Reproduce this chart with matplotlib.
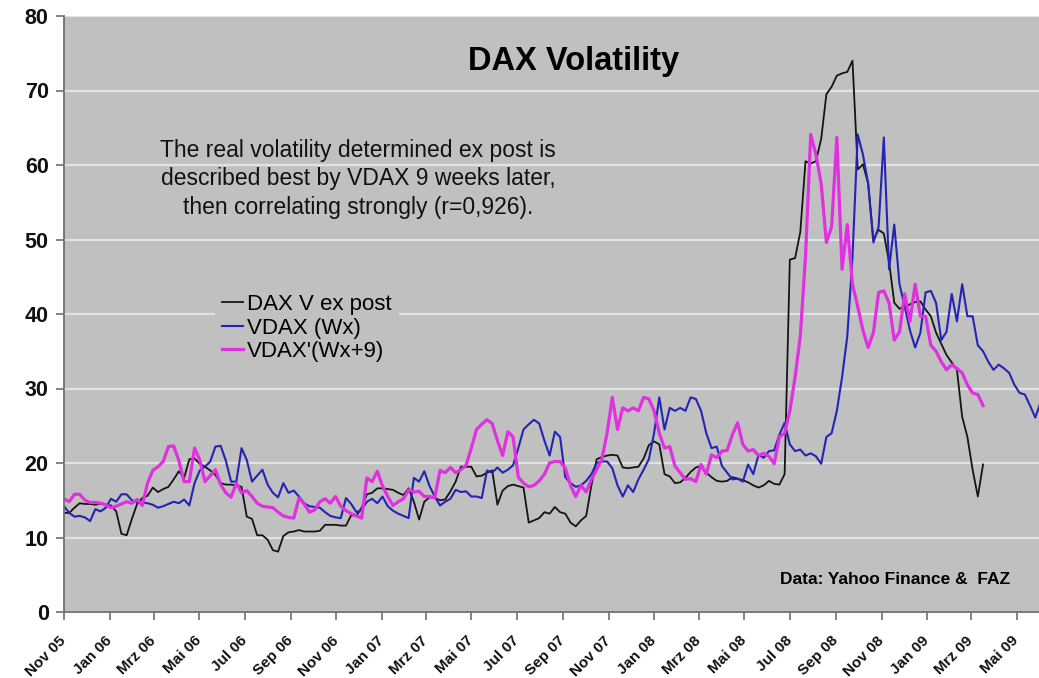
import matplotlib.pyplot as plt
import matplotlib.transforms as mtransforms
import numpy as np
import pandas as pd

plt.rcParams['font.family'] = ['Liberation Sans', 'DejaVu Sans']

# weekly values, first week = Nov 2005
dax_ex_post = [
    13.3, 13.3, 14.0, 14.6, 14.5, 14.5, 14.4, 14.5, 14.4, 14.3,
    13.5, 10.5, 10.3, 12.5, 14.5, 15.3, 15.6, 16.7, 16.1, 16.5,
    16.8, 17.8, 18.9, 18.0, 20.5, 20.6, 19.9, 19.5, 19.0, 18.4,
    17.3, 17.1, 17.1, 17.0, 16.8, 12.8, 12.5, 10.3, 10.3, 9.7,
    8.3, 8.1, 10.2, 10.7, 10.8, 11.0, 10.8, 10.8, 10.8, 10.9,
    11.7, 11.7, 11.7, 11.6, 11.6, 13.0, 12.9, 14.0, 15.8, 16.0,
    16.6, 16.6, 16.5, 16.4, 16.0, 15.7, 16.6, 14.8, 12.4, 14.8,
    15.4, 15.3, 15.0, 15.1, 16.2, 17.5, 19.5, 19.5, 19.5, 18.2,
    18.3, 18.7, 19.0, 14.4, 16.3, 16.9, 17.1, 16.9, 16.7, 12.0,
    12.3, 12.6, 13.4, 13.2, 14.1, 13.4, 13.2, 12.0, 11.5, 12.3,
    12.9, 17.0, 20.5, 20.8, 21.0, 21.1, 21.0, 19.4, 19.3, 19.4,
    19.5, 20.6, 22.4, 22.9, 22.5, 18.5, 18.2, 17.3, 17.4, 18.0,
    18.8, 19.4, 19.6, 18.7, 18.1, 17.6, 17.5, 17.6, 18.1, 17.9,
    17.7, 17.4, 17.0, 16.7, 17.0, 17.6, 17.2, 17.1, 18.5, 47.3,
    47.5, 51.0, 60.5, 60.2, 60.5, 63.5, 69.5, 70.5, 72.0, 72.3,
    72.5, 74.0, 59.4, 60.1, 57.5, 50.0, 51.3, 50.8, 47.0, 41.5,
    40.7, 41.0, 41.3, 41.6, 41.7, 40.6, 39.7, 37.5, 36.0, 34.5,
    33.5, 32.5, 26.2, 23.5, 19.1, 15.5, 19.8,
]

vdax = [
    14.2, 13.3, 12.8, 12.9, 12.7, 12.2, 13.8, 13.5, 14.0, 15.2,
    14.8, 15.8, 15.8, 15.0, 14.7, 14.7, 14.6, 14.4, 14.0, 14.2,
    14.5, 14.8, 14.6, 15.1, 14.3, 17.3, 19.0, 19.5, 20.2, 22.2,
    22.3, 20.3, 17.5, 17.5, 22.0, 20.4, 17.5, 18.3, 19.1, 17.1,
    16.0, 15.4, 17.3, 16.0, 16.3, 15.5, 14.6, 14.2, 14.1, 14.0,
    13.4, 12.9, 12.7, 12.6, 15.3, 14.5, 13.4, 13.7, 14.8, 15.2,
    14.6, 15.5, 14.2, 13.6, 13.2, 12.9, 12.6, 18.0, 17.5, 18.9,
    16.9, 15.5, 14.3, 14.8, 15.2, 16.4, 16.1, 16.2, 15.5, 15.5,
    15.3, 19.0, 18.7, 19.4, 18.7, 19.1, 19.7, 22.0, 24.5, 25.2,
    25.8, 25.3, 23.0, 21.0, 24.2, 23.5, 18.1, 17.3, 16.8, 17.0,
    17.6, 18.5, 20.0, 20.2, 20.2, 19.3, 17.0, 15.5, 17.0, 16.1,
    17.8, 19.1, 20.5, 24.0, 28.8, 24.5, 27.4, 27.0, 27.4, 27.0,
    28.8, 28.6, 27.0, 24.0, 22.0, 22.2, 19.6, 18.7, 17.8, 17.9,
    17.5, 19.8, 18.5, 21.1, 20.7, 21.6, 21.7, 23.8, 25.4, 22.5,
    21.6, 21.8, 21.0, 21.3, 20.9, 19.9, 23.5, 24.0, 27.0, 31.5,
    37.0, 47.7, 64.1, 61.4, 57.5, 49.6, 51.7, 63.7, 46.0, 52.0,
    44.0, 41.0, 37.8, 35.5, 37.5, 42.9, 43.1, 41.5, 36.5, 37.6,
    42.7, 39.0, 44.0, 39.7, 39.7, 35.8, 35.0, 33.6, 32.5, 33.2,
    32.7, 32.1, 30.5, 29.4, 29.2, 27.7, 26.1, 28.1,
]

vdax_wx9 = [
    15.2, 14.8, 15.8, 15.8, 15.0, 14.7, 14.7, 14.6, 14.4, 14.0,
    14.2, 14.5, 14.8, 14.6, 15.1, 14.3, 17.3, 19.0, 19.5, 20.2,
    22.2, 22.3, 20.3, 17.5, 17.5, 22.0, 20.4, 17.5, 18.3, 19.1,
    17.1, 16.0, 15.4, 17.3, 16.0, 16.3, 15.5, 14.6, 14.2, 14.1,
    14.0, 13.4, 12.9, 12.7, 12.6, 15.3, 14.5, 13.4, 13.7, 14.8,
    15.2, 14.6, 15.5, 14.2, 13.6, 13.2, 12.9, 12.6, 18.0, 17.5,
    18.9, 16.9, 15.5, 14.3, 14.8, 15.2, 16.4, 16.1, 16.2, 15.5,
    15.5, 15.3, 19.0, 18.7, 19.4, 18.7, 19.1, 19.7, 22.0, 24.5,
    25.2, 25.8, 25.3, 23.0, 21.0, 24.2, 23.5, 18.1, 17.3, 16.8,
    17.0, 17.6, 18.5, 20.0, 20.2, 20.2, 19.3, 17.0, 15.5, 17.0,
    16.1, 17.8, 19.1, 20.5, 24.0, 28.8, 24.5, 27.4, 27.0, 27.4,
    27.0, 28.8, 28.6, 27.0, 24.0, 22.0, 22.2, 19.6, 18.7, 17.8,
    17.9, 17.5, 19.8, 18.5, 21.1, 20.7, 21.6, 21.7, 23.8, 25.4,
    22.5, 21.6, 21.8, 21.0, 21.3, 20.9, 19.9, 23.5, 24.0, 27.0,
    31.5, 37.0, 47.7, 64.1, 61.4, 57.5, 49.6, 51.7, 63.7, 46.0,
    52.0, 44.0, 41.0, 37.8, 35.5, 37.5, 42.9, 43.1, 41.5, 36.5,
    37.6, 42.7, 39.0, 44.0, 39.7, 39.7, 35.8, 35.0, 33.6, 32.5,
    33.2, 32.7, 32.1, 30.5, 29.4, 29.2, 27.7,
]

tick_labels = ['Nov 05', 'Jan 06', 'Mrz 06', 'Mai 06', 'Jul 06', 'Sep 06',
               'Nov 06', 'Jan 07', 'Mrz 07', 'Mai 07', 'Jul 07', 'Sep 07',
               'Nov 07', 'Jan 08', 'Mrz 08', 'Mai 08', 'Jul 08', 'Sep 08',
               'Nov 08', 'Jan 09', 'Mrz 09', 'Mai 09']

weeks = pd.date_range('2005-11-01', periods=len(vdax), freq='7D')
tick_dates = pd.date_range('2005-11-01', periods=len(tick_labels), freq='2MS')

fig = plt.figure(figsize=(10.39, 6.78), dpi=100)
ax = fig.add_axes([64 / 1039, 66 / 678, 975 / 1039, 596 / 678])
ax.set_facecolor('#c0c0c0')

ax.plot(weeks[:len(dax_ex_post)], dax_ex_post, color='#141414', lw=1.3,
        label='DAX V ex post')
ax.plot(weeks, vdax, color='#2424b4', lw=1.5, label='VDAX (Wx)')
ax.plot(weeks[:len(vdax_wx9)], vdax_wx9, color='#e030e0', lw=2.3,
        label="VDAX'(Wx+9)")

ax.set_ylim(0, 80)
ax.set_xlim(pd.Timestamp('2005-11-01'), pd.Timestamp('2009-05-31'))
ax.set_yticks(np.arange(0, 81, 10))
ax.set_xticks(tick_dates)
ax.set_xticklabels(tick_labels, rotation=45, ha='right', va='center',
                   rotation_mode='anchor', fontsize=11, fontweight='bold')
# nudge the rotated labels to the left, like the original
shift = mtransforms.ScaledTranslation(-11 / 100, 0, fig.dpi_scale_trans)
for lab in ax.get_xticklabels():
    lab.set_transform(lab.get_transform() + shift)
for lab in ax.get_yticklabels():
    lab.set_fontsize(15.5)
    lab.set_fontweight('bold')

ax.yaxis.grid(True, color='#e2e2e2', lw=1.6)
ax.set_axisbelow(True)
ax.tick_params(axis='both', colors='#707070', length=6, width=1.2, direction='out')
ax.tick_params(axis='y', pad=5, labelcolor='#111111')
ax.tick_params(axis='x', pad=13, labelcolor='#111111')
for side in ['top', 'right']:
    ax.spines[side].set_visible(False)
for side in ['left', 'bottom']:
    ax.spines[side].set_color('#707070')
    ax.spines[side].set_linewidth(1.3)

ax.text(0.523, 0.923, 'DAX Volatility', transform=ax.transAxes,
        ha='center', va='center', fontsize=23.5, fontweight='bold')
ax.text(0.3015, 0.727, 'The real volatility determined ex post is\n'
        'described best by VDAX 9 weeks later,\n'
        'then correlating strongly (r=0,926).',
        transform=ax.transAxes, ha='center', va='center', fontsize=16.5,
        linespacing=1.3, color='#111111')
ax.text(0.852, 0.055, 'Data: Yahoo Finance &  FAZ', transform=ax.transAxes,
        ha='center', va='center', fontsize=12.5, fontweight='bold')

leg = ax.legend(loc='center left', bbox_to_anchor=(0.155, 0.4765),
                fontsize=16, handlelength=0.95, handletextpad=0.2,
                labelspacing=0.12, borderpad=0.3, borderaxespad=0,
                frameon=True, fancybox=False)
leg.get_frame().set_facecolor('#c0c0c0')
leg.get_frame().set_edgecolor('none')
leg.get_frame().set_alpha(1)

fig.savefig('out.png', dpi=100)
